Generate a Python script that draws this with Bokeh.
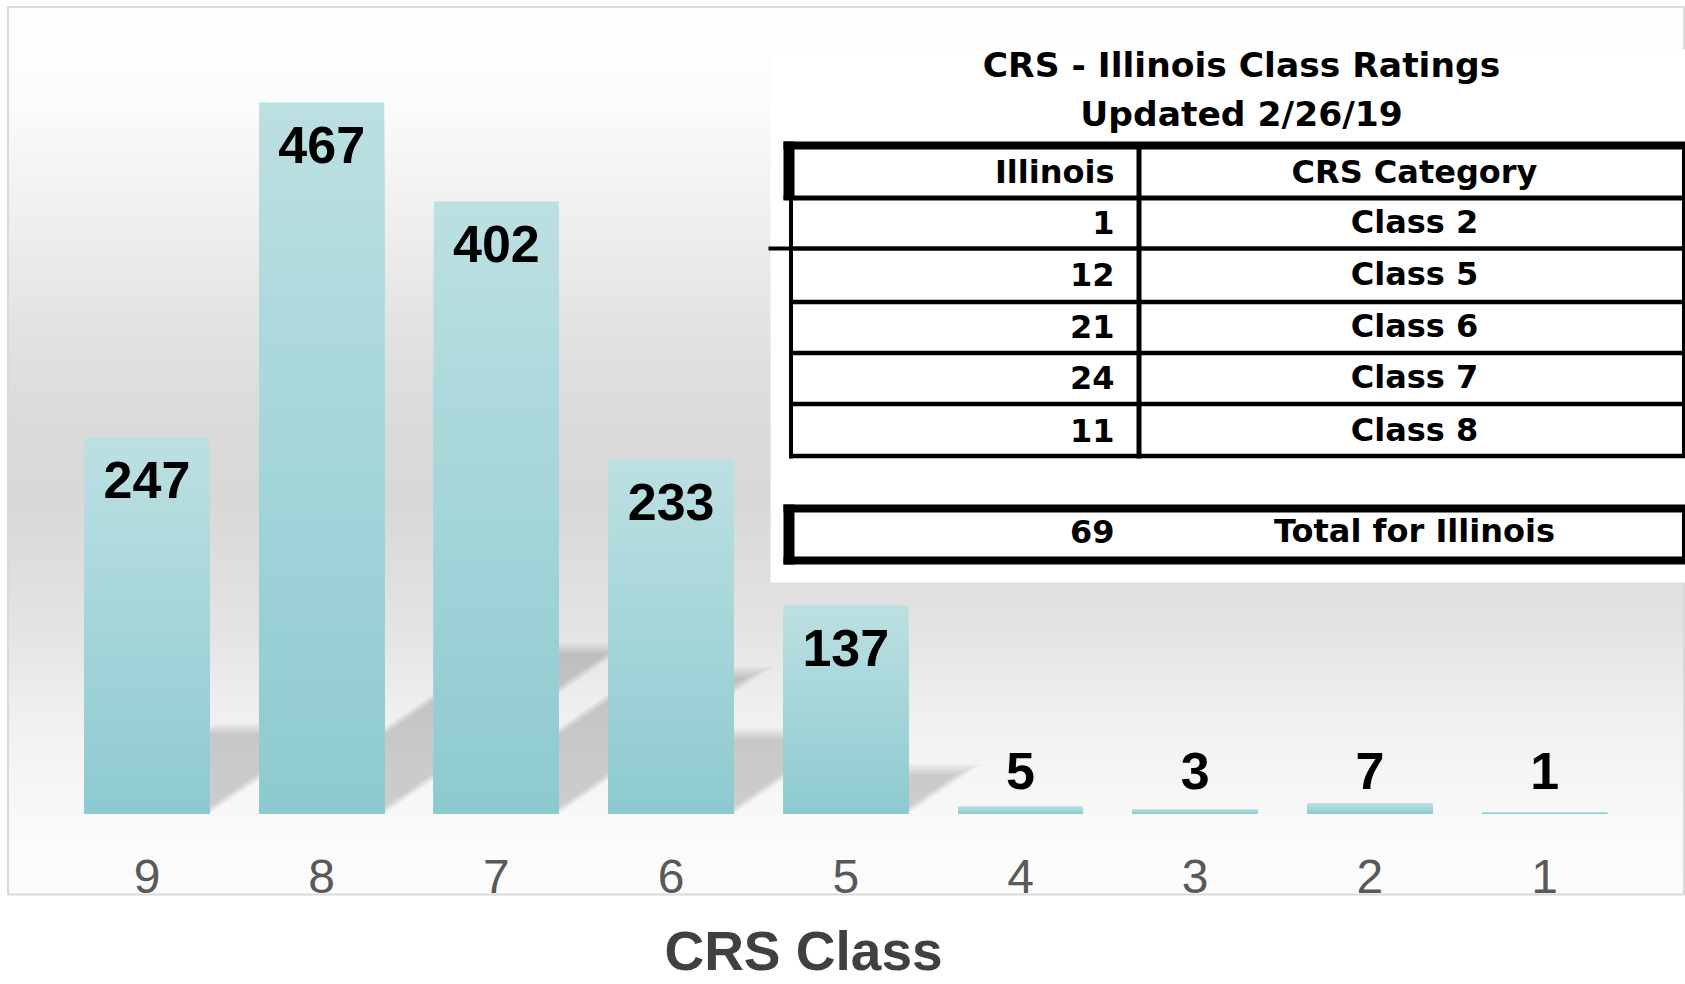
import numpy as np
from bokeh.plotting import figure
from bokeh.models import Range1d
from bokeh.core.properties import value
from bokeh.embed import file_html
from bokeh.resources import INLINE

# ---------------- data ----------------
categories = ["9", "8", "7", "6", "5", "4", "3", "2", "1"]
counts = [247, 467, 402, 233, 137, 5, 3, 7, 1]

table_title = "CRS - Illinois Class Ratings"
table_subtitle = "Updated 2/26/19"
table_header = ["Illinois", "CRS Category"]
il_counts = ["1", "12", "21", "24", "11"]
il_classes = ["Class 2", "Class 5", "Class 6", "Class 7", "Class 8"]
il_total = "69"
il_total_label = "Total for Illinois"
axis_title = "CRS Class"

# ---------------- layout ----------------
W, H = 1685, 984
PX_CAT = 174.7          # px between category centres
CAT0 = 146.5            # canvas x of first category centre
BASE_FROM_BOTTOM = H - 813.5
PX_UNIT = 1.5236        # px per count
BAR_W = 125 / PX_CAT
EM_FIX = 0.37           # baseline correction (fraction of font size)


def X(page_x):
    return page_x


def Y(page_y):
    return H - page_y


p = figure(width=W, height=H,
           x_range=Range1d(-CAT0 / PX_CAT, (W - CAT0) / PX_CAT),
           y_range=Range1d(-BASE_FROM_BOTTOM / PX_UNIT, (H - BASE_FROM_BOTTOM) / PX_UNIT),
           output_backend="svg", toolbar_location=None,
           x_axis_location=None, y_axis_location=None,
           min_border=0, min_border_left=0, min_border_right=0,
           min_border_top=0, min_border_bottom=0)
p.extra_x_ranges = {"px": Range1d(0, W)}
p.extra_y_ranges = {"px": Range1d(0, H)}
p.grid.visible = False
p.outline_line_color = None
p.background_fill_color = "white"
p.border_fill_color = "white"

PX = dict(x_range_name="px", y_range_name="px")

# ---------------- background gradient ----------------
top_page, bot_page = 6, 894
nrows = bot_page - top_page
row_y = bot_page - (np.arange(nrows) + 0.5)
stops_y = [6, 100, 130, 230, 330, 430, 500, 580, 640, 700, 760, 812, 820, 894]
stops_v = [254, 252, 248, 238, 226, 218, 216, 223, 229, 238, 244, 248, 250, 252]
g = np.interp(row_y, stops_y, stops_v).round().astype(np.uint8)
img = np.empty((nrows, 2), dtype=np.uint32)
view = img.view(dtype=np.uint8).reshape((nrows, 2, 4))
for c in range(3):
    view[:, :, c] = g[:, None]
view[:, :, 3] = 255
p.image_rgba(image=[img], x=X(7), y=Y(bot_page), dw=1683 - 7, dh=nrows, **PX)

# chart border
BC = "#d9d9d9"
p.line([X(7.5), X(7.5)], [Y(894), Y(6)], line_color=BC, line_width=2, **PX)
p.line([X(1683.5), X(1683.5)], [Y(894), Y(6)], line_color=BC, line_width=2, **PX)
p.line([X(7), X(1684)], [Y(6.5), Y(6.5)], line_color=BC, line_width=2, **PX)
p.line([X(7), X(1684)], [Y(894), Y(894)], line_color=BC, line_width=2, **PX)

idx = list(range(len(categories)))

# ---------------- shadows ----------------
H_RATIO, K_RATIO = 0.24, 1.45
for j in range(5):
    d = 2.5 * j
    xs, ys = [], []
    for i, v in zip(idx, counts):
        h = H_RATIO * v
        kx = K_RATIO * h * PX_UNIT / PX_CAT
        dx = d / PX_CAT
        dy = d / PX_UNIT
        top = max(h - dy, 0)
        kk = kx * (top / h) if h > 0 else 0
        L, R = i - BAR_W / 2, i + BAR_W / 2
        xs.append([L + dx, R - dx, R - dx + kk, L + dx + kk])
        ys.append([0, 0, top, top])
    p.patches(xs, ys, fill_color="black", fill_alpha=0.037, line_color=None)

# ---------------- bars (vertical gradient) ----------------
top_rgb = np.array([189, 224, 226])
bot_rgb = np.array([140, 202, 207])
NS = 48
ql, qr, qt, qb, qc = [], [], [], [], []
for s in range(NS):
    f = 1 - s / NS
    t = max(f - 0.5 / NS, 0)
    rgb = (bot_rgb + (top_rgb - bot_rgb) * t).round().astype(int)
    col = "#%02x%02x%02x" % tuple(rgb)
    for i, v in zip(idx, counts):
        ql.append(i - BAR_W / 2)
        qr.append(i + BAR_W / 2)
        qb.append(0)
        qt.append(v * f)
        qc.append(col)
p.quad(left=ql, right=qr, top=qt, bottom=qb, fill_color=qc, line_color=None)

# ---------------- data labels ----------------
LABEL_FONT = value("Liberation Sans")
big_x = [i for i, v in zip(idx, counts) if v >= 100]
big_y = [v for v in counts if v >= 100]
big_t = [str(v) for v in counts if v >= 100]
sm_x = [i for i, v in zip(idx, counts) if v < 100]
sm_t = [str(v) for v in counts if v < 100]
p.text(x=big_x, y=big_y, text=big_t, y_offset=62 - EM_FIX * 52, text_align="center",
       text_baseline="alphabetic", text_font=LABEL_FONT, text_font_style="bold",
       text_font_size="52px", text_color="black")
p.text(x=sm_x, y=[0] * len(sm_x), text=sm_t, y_offset=-23.5 - EM_FIX * 52,
       text_align="center", text_baseline="alphabetic", text_font=LABEL_FONT,
       text_font_style="bold", text_font_size="52px", text_color="black")

# category tick labels
p.text(x=idx, y=[0] * len(idx), text=categories, y_offset=80 - EM_FIX * 48,
       text_align="center", text_baseline="alphabetic", text_font=LABEL_FONT,
       text_font_size="48px", text_color="#595959")

# axis title
p.text(x=[X(803)], y=[Y(971) + EM_FIX * 55], text=[axis_title], text_align="center",
       text_baseline="alphabetic", text_font=LABEL_FONT, text_font_style="bold",
       text_font_size="55px", text_color="#404040", **PX)

# ---------------- table picture ----------------
TF = value("DejaVu Sans")
RIGHT = 1683
p.quad(left=[X(770)], right=[X(1690)], bottom=[Y(582)], top=[Y(49)],
       fill_color="white", line_color=None, **PX)


def hline(y, x0, x1, w):
    p.line([X(x0), X(x1)], [Y(y), Y(y)], line_color="black", line_width=w, **PX)


def vline(x, y0, y1, w):
    p.line([X(x), X(x)], [Y(y0), Y(y1)], line_color="black", line_width=w, **PX)


# stub line at left
hline(248, 768, 792, 4)
# header box
hline(145, 783, 1690, 8)
vline(788.5, 141, 199, 11)
hline(197.5, 783, 1690, 5)
vline(RIGHT, 145, 198, 3)
# rows
vline(790.5, 197, 458, 4)
for yy in [248, 301.5, 352.5, 403.5, 455.5]:
    hline(yy, 788.5, 1690, 4.5)
vline(1138.5, 145, 458, 5)
vline(RIGHT, 198, 457, 3)
# total box
hline(508, 783, 1690, 8)
hline(560, 783, 1690, 8)
vline(788.5, 504, 564, 11)
vline(RIGHT, 508, 560, 3)

# table texts
fix_t = EM_FIX * 34.5
fix_r = EM_FIX * 32
p.text(x=[X(1241)], y=[Y(77) + fix_t], text=[table_title], text_align="center",
       text_baseline="alphabetic", text_font=TF, text_font_style="bold",
       text_font_size="34.5px", text_color="black", **PX)
p.text(x=[X(1241)], y=[Y(126.5) + fix_t], text=[table_subtitle], text_align="center",
       text_baseline="alphabetic", text_font=TF, text_font_style="bold",
       text_font_size="34.5px", text_color="black", **PX)

row_base = [183.5, 233.5, 285.5, 337.5, 388.5, 441.5]
left_col = [table_header[0]] + il_counts
right_col = [table_header[1]] + il_classes
p.text(x=[X(1114)] * len(left_col), y=[Y(b) + fix_r for b in row_base], text=left_col,
       text_align="right", text_baseline="alphabetic", text_font=TF,
       text_font_style="bold", text_font_size="32px", text_color="black", **PX)
p.text(x=[X(1414)] * len(right_col), y=[Y(b) + fix_r for b in row_base], text=right_col,
       text_align="center", text_baseline="alphabetic", text_font=TF,
       text_font_style="bold", text_font_size="32px", text_color="black", **PX)
p.text(x=[X(1114)], y=[Y(542.5) + fix_r], text=[il_total], text_align="right",
       text_baseline="alphabetic", text_font=TF, text_font_style="bold",
       text_font_size="32px", text_color="black", **PX)
p.text(x=[X(1414)], y=[Y(542.5) + fix_r], text=[il_total_label], text_align="center",
       text_baseline="alphabetic", text_font=TF, text_font_style="bold",
       text_font_size="32px", text_color="black", **PX)

open("out.html", "w").write(file_html(p, INLINE))
